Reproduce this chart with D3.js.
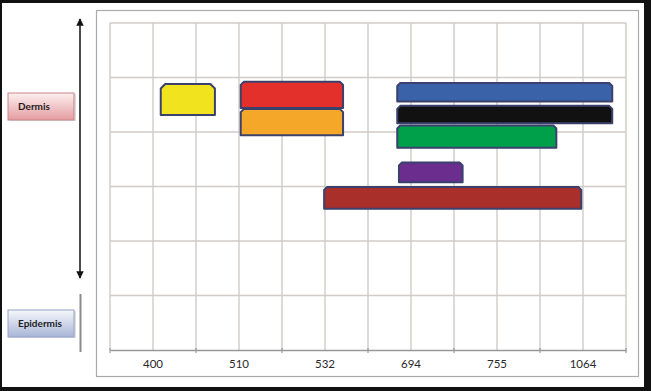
<!DOCTYPE html>
<html>
<head>
<meta charset="utf-8">
<script src="https://cdn.jsdelivr.net/npm/d3@7"></script>
<style>
  body { margin: 0; background: #fff; }
  svg { display: block; font-family: Lato, "Open Sans", sans-serif; }
</style>
</head>
<body>
<div id="chart"></div>
<script>
// wavelengths (nm) on the x axis
var wavelengths = ['400', '510', '532', '694', '755', '1064'];

// bars: start / end along the wavelength bands, top / bottom in depth rows
var barNames  = ['yellow', 'red', 'orange', 'blue', 'black', 'green', 'purple', 'darkred'];
var barStart  = [0.59, 1.52, 1.52, 3.34, 3.34, 3.34, 3.36, 2.49];
var barEnd    = [1.22, 2.71, 2.71, 5.84, 5.84, 5.19, 4.10, 5.48];
var barTop    = [1.12, 1.08, 1.58, 1.10, 1.52, 1.88, 2.56, 3.01];
var barBottom = [1.69, 1.56, 2.06, 1.44, 1.84, 2.29, 2.92, 3.41];
var barColors = ['#f1e41e', '#e3302b', '#f5a72a', '#3a62a8', '#111111', '#00a04a', '#6b2d8e', '#a82f2a'];

var width = 651;
var height = 391;

var svg = d3.select('#chart')
  .append('svg')
  .attr('width', width)
  .attr('height', height);

// outer black frame
svg.append('rect').attr('width', width).attr('height', height).attr('fill', '#111');
svg.append('rect').attr('x', 2).attr('y', 3).attr('width', 642).attr('height', 384).attr('fill', '#fff');

// gradients for the side labels
var defs = svg.append('defs');
var gDerm = defs.append('linearGradient').attr('id', 'derm').attr('x1', 0).attr('y1', 0).attr('x2', 0).attr('y2', 1);
gDerm.append('stop').attr('offset', '0%').attr('stop-color', '#fdf0f0');
gDerm.append('stop').attr('offset', '100%').attr('stop-color', '#e49ca0');
var gEpi = defs.append('linearGradient').attr('id', 'epi').attr('x1', 0).attr('y1', 0).attr('x2', 0).attr('y2', 1);
gEpi.append('stop').attr('offset', '0%').attr('stop-color', '#f6f8fc');
gEpi.append('stop').attr('offset', '100%').attr('stop-color', '#a9b5d7');
defs.append('marker').attr('id', 'head')
  .attr('viewBox', '0 0 10 10').attr('refX', 9).attr('refY', 5)
  .attr('markerWidth', 5).attr('markerHeight', 5).attr('orient', 'auto-start-reverse')
  .append('path').attr('d', 'M0,0L10,5L0,10z').attr('fill', '#111');

// inner panel
svg.append('rect')
  .attr('x', 96.5).attr('y', 10.5).attr('width', 542).attr('height', 366)
  .attr('fill', '#fff').attr('stroke', '#aaa').attr('stroke-width', 1.2);

var x = d3.scaleLinear().domain([0, wavelengths.length]).range([110, 626]);
var y = d3.scaleLinear().domain([0, 6]).range([23, 350]);

// grid: band edges and band centres
var grid = svg.append('g');
grid.selectAll('line.v')
  .data(d3.range(0, wavelengths.length + 0.01, 0.5))
  .enter().append('line')
  .attr('class', 'v')
  .attr('x1', function(d) { return x(d); })
  .attr('x2', function(d) { return x(d); })
  .attr('y1', y(0)).attr('y2', y(6))
  .attr('stroke', '#cfcbc8').attr('stroke-width', 1.4);
grid.selectAll('line.h')
  .data(d3.range(0, 6))
  .enter().append('line')
  .attr('class', 'h')
  .attr('x1', x(0)).attr('x2', x(wavelengths.length))
  .attr('y1', function(d) { return y(d); })
  .attr('y2', function(d) { return y(d); })
  .attr('stroke', '#cfcbc8').attr('stroke-width', 1.4);

// x axis
var band = d3.scaleBand().domain(wavelengths).range([110, 626]);
var xAxis = svg.append('g')
  .attr('transform', 'translate(0,' + y(6) + ')')
  .call(d3.axisBottom(band).tickSize(0).tickPadding(10));
xAxis.select('.domain').attr('stroke', '#999').attr('stroke-width', 1.4);
xAxis.selectAll('text').attr('font-size', 11.5).attr('fill', '#2a2a2a')
  .attr('font-family', 'Lato, "Open Sans", sans-serif');
svg.selectAll('line.tick-edge')
  .data(d3.range(0, wavelengths.length + 1))
  .enter().append('line')
  .attr('class', 'tick-edge')
  .attr('x1', function(d) { return x(d); })
  .attr('x2', function(d) { return x(d); })
  .attr('y1', y(6) - 2).attr('y2', y(6) + 3)
  .attr('stroke', '#999').attr('stroke-width', 1.2);

// bars with snipped top corners
function barPath(i) {
  var x0 = x(barStart[i]), x1 = x(barEnd[i]);
  var y0 = y(barTop[i]), y1 = y(barBottom[i]);
  var c = barNames[i] === 'yellow' ? 4.5 : 3;
  return 'M' + x0 + ',' + y1 + 'L' + x0 + ',' + (y0 + c) + 'L' + (x0 + c) + ',' + y0 +
    'L' + (x1 - c) + ',' + y0 + 'L' + x1 + ',' + (y0 + c) + 'L' + x1 + ',' + y1 + 'Z';
}
svg.selectAll('path.bar')
  .data(barNames)
  .enter().append('path')
  .attr('class', 'bar')
  .attr('d', function(d, i) { return barPath(i); })
  .attr('fill', function(d, i) { return barColors[i]; })
  .attr('stroke', '#3b416c')
  .attr('stroke-width', 2)
  .attr('stroke-linejoin', 'round');

// depth arrow and epidermis line
svg.append('line')
  .attr('x1', 80).attr('x2', 80).attr('y1', 19).attr('y2', 278)
  .attr('stroke', '#111').attr('stroke-width', 1.5)
  .attr('marker-start', 'url(#head)').attr('marker-end', 'url(#head)');
svg.append('line')
  .attr('x1', 80.5).attr('x2', 80.5).attr('y1', 294).attr('y2', 352)
  .attr('stroke', '#8a8a8a').attr('stroke-width', 2);

// side labels
var labels = [
  { text: 'Dermis', y: 93, fill: 'url(#derm)', stroke: '#c9868a' },
  { text: 'Epidermis', y: 310, fill: 'url(#epi)', stroke: '#94a1c6' }
];
var lab = svg.selectAll('g.side')
  .data(labels)
  .enter().append('g')
  .attr('class', 'side')
  .attr('transform', function(d) { return 'translate(8,' + d.y + ')'; });
lab.append('rect')
  .attr('x', 1).attr('y', 1).attr('width', 67).attr('height', 27)
  .attr('fill', '#c8c8c8').attr('opacity', 0.6);
lab.append('rect')
  .attr('width', 66).attr('height', 27)
  .attr('fill', function(d) { return d.fill; })
  .attr('stroke', function(d) { return d.stroke; })
  .attr('stroke-width', 1);
lab.append('text')
  .attr('x', 10).attr('y', 13.5).attr('dy', '.35em')
  .attr('font-size', 10).attr('font-weight', 'bold').attr('fill', '#1e1e1e')
  .text(function(d) { return d.text; });
</script>
</body>
</html>
